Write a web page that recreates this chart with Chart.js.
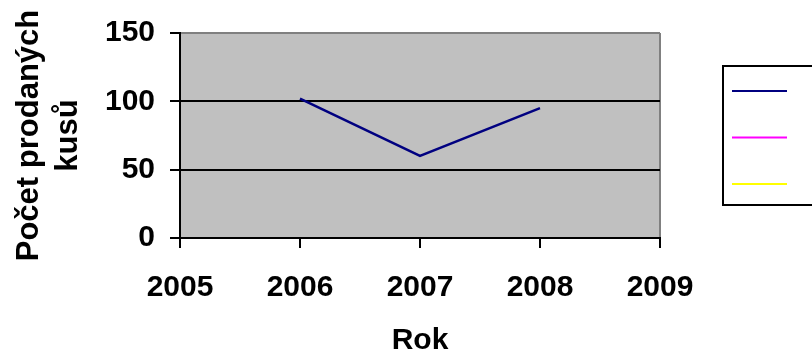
<!DOCTYPE html>
<html>
<head>
<meta charset="utf-8">
<script src="https://cdn.jsdelivr.net/npm/chart.js@4/dist/chart.umd.min.js"></script>
<style>
  html, body { margin: 0; padding: 0; background: #fff; }
  #wrap { width: 812px; height: 356px; }
</style>
</head>
<body>
<div id="wrap"><canvas id="c" width="812" height="356"></canvas></div>
<script>
// Years and sold pieces per series
const years = [2006, 2007, 2008];
const rada1 = [102, 60, 95];
const rada2 = [];
const rada3 = [];
const seriesNames = ['Řada1', 'Řada2', 'Řada3'];
const xTicks = [2005, 2006, 2007, 2008, 2009];
const yTicks = [0, 50, 100, 150];

const toPoints = vals => vals.map((v, i) => ({ x: years[i], y: v }));

Chart.defaults.font.family = '"Liberation Sans", Arial, sans-serif';
Chart.defaults.color = '#000';

// Gray plot background
const plotBg = {
  id: 'plotBg',
  beforeDraw(chart) {
    const a = chart.chartArea, ctx = chart.ctx;
    ctx.save();
    ctx.fillStyle = '#C0C0C0';
    ctx.fillRect(a.left, a.top, a.right - a.left, a.bottom - a.top);
    ctx.restore();
  }
};

// Boxed legend showing only the line samples of each series
const boxLegend = {
  id: 'boxLegend',
  afterDraw(chart) {
    const ctx = chart.ctx;
    ctx.save();
    ctx.strokeStyle = '#000';
    ctx.lineWidth = 2;
    ctx.strokeRect(723, 66, 100, 139);
    chart.data.datasets.forEach((ds, i) => {
      const y = 91 + i * 46.5;
      ctx.strokeStyle = ds.borderColor;
      ctx.lineWidth = 2;
      ctx.beginPath();
      ctx.moveTo(732, y);
      ctx.lineTo(787, y);
      ctx.stroke();
    });
    ctx.restore();
  }
};

new Chart(document.getElementById('c'), {
  type: 'line',
  data: {
    datasets: [
      { label: seriesNames[0], data: toPoints(rada1), borderColor: '#000080', borderWidth: 2.5, pointRadius: 0, tension: 0 },
      { label: seriesNames[1], data: toPoints(rada2), borderColor: '#FF00FF', borderWidth: 2.5, pointRadius: 0, tension: 0 },
      { label: seriesNames[2], data: toPoints(rada3), borderColor: '#FFFF00', borderWidth: 2.5, pointRadius: 0, tension: 0 }
    ]
  },
  options: {
    responsive: false,
    animation: false,
    layout: { padding: { left: 10, top: 33, right: 152, bottom: 0 } },
    plugins: { legend: { display: false }, tooltip: { enabled: false } },
    scales: {
      x: {
        type: 'linear',
        min: xTicks[0],
        max: xTicks[xTicks.length - 1],
        afterBuildTicks: s => { s.ticks = xTicks.map(v => ({ value: v })); },
        afterFit: s => { s.height = 118; },
        ticks: {
          callback: v => String(v),
          font: { size: 30, weight: 'bold' },
          padding: 22,
          maxRotation: 0
        },
        grid: {
          color: c => (c.tick && c.tick.value === 2009 ? '#808080' : 'rgba(0,0,0,0)'),
          lineWidth: 2,
          tickColor: '#000',
          tickWidth: 2,
          tickLength: 10
        },
        border: { display: true, color: '#000', width: 2 },
        title: {
          display: true,
          text: 'Rok',
          font: { size: 30, weight: 'bold', lineHeight: 1.0 },
          padding: 0
        }
      },
      y: {
        min: yTicks[0],
        max: yTicks[yTicks.length - 1],
        afterBuildTicks: s => { s.ticks = yTicks.map(v => ({ value: v })); },
        afterFit: s => { s.width = 170; },
        ticks: {
          font: { size: 30, weight: 'bold' },
          padding: 15
        },
        grid: {
          color: c => (c.tick && c.tick.value === 150 ? '#808080' : '#000'),
          lineWidth: 2,
          tickColor: '#000',
          tickWidth: 2,
          tickLength: 10
        },
        border: { display: true, color: '#000', width: 2 },
        title: {
          display: true,
          text: ['Počet prodaných', 'kusů'],
          font: { size: 31, weight: 'bold', lineHeight: 1.26 },
          padding: 0
        }
      }
    }
  },
  plugins: [plotBg, boxLegend]
});
</script>
</body>
</html>
